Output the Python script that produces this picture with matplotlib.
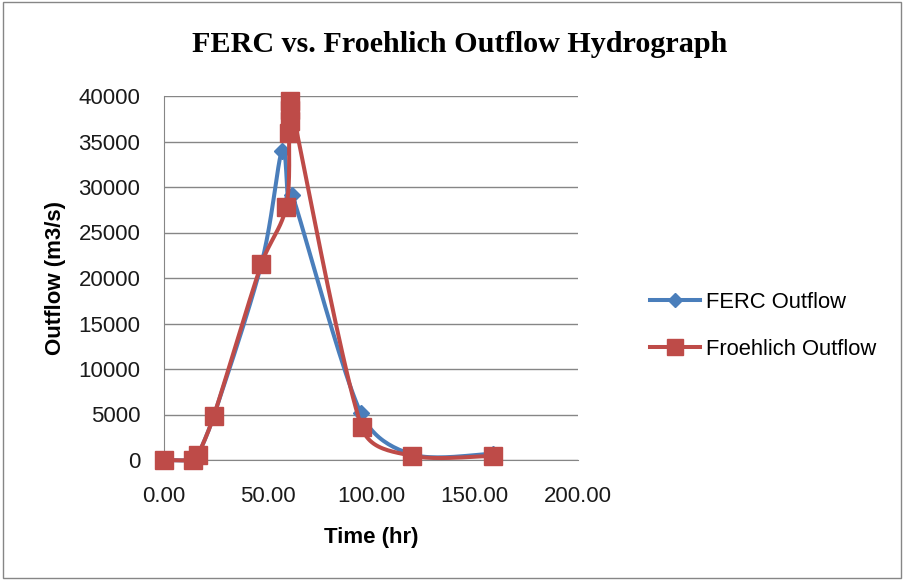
import numpy as np
import matplotlib.pyplot as plt

time_ferc = [0, 14, 16.5, 24, 47, 57, 60, 62, 95, 120, 159]
ferc = [0, 0, 600, 4800, 21500, 34000, 28300, 29100, 5200, 600, 700]

time_froe = [0, 14, 16.5, 24, 47, 59, 60.5, 61, 61, 61, 95.5, 120, 159]
froe = [0, 0, 600, 4800, 21500, 27800, 35900, 37300, 38500, 39500, 3600, 450, 450]

# plot box in pixels
L, R, T, B = 164, 578, 96, 460
XMAX, YMAX = 200, 40000


def smooth(x, y, n=24):
    # bezier smoothing (like Excel's smoothed line), worked out in pixel space
    sx = (R - L) / XMAX
    sy = (B - T) / YMAX
    p = np.column_stack([np.asarray(x, float) * sx, np.asarray(y, float) * sy])
    m = len(p)
    tang = np.zeros_like(p)
    for i in range(m):
        a = p[max(i - 1, 0)]
        b = p[min(i + 1, m - 1)]
        tang[i] = (b - a) / 6
    t = np.linspace(0, 1, n)[:, None]
    out = []
    for i in range(m - 1):
        p1, p2 = p[i], p[i + 1]
        seg = np.hypot(*(p2 - p1))
        t1, t2 = tang[i].copy(), tang[i + 1].copy()
        for tt in (t1, t2):
            ln = np.hypot(*tt)
            if ln > 0.4 * seg and ln > 0:
                tt *= 0.4 * seg / ln
        c1 = p1 + t1
        c2 = p2 - t2
        bz = (1 - t) ** 3 * p1 + 3 * (1 - t) ** 2 * t * c1 + 3 * (1 - t) * t ** 2 * c2 + t ** 3 * p2
        out.append(bz)
    out = np.vstack(out)
    return out[:, 0] / sx, out[:, 1] / sy


blue = '#4a7ebb'
red = '#be4b48'
font = 'Liberation Sans'

fig = plt.figure(figsize=(9.04, 5.8), dpi=100)
ax = fig.add_axes([L / 904, 1 - B / 580, (R - L) / 904, (B - T) / 580])

sx, sy = smooth(time_ferc, ferc)
ax.plot(sx, sy, color=blue, lw=2.9, solid_capstyle='round', zorder=3, clip_on=False)
ax.plot(time_ferc, ferc, ls='none', marker='D', ms=8.5, color=blue, zorder=4, clip_on=False)
sx, sy = smooth(time_froe, froe)
ax.plot(sx, sy, color=red, lw=2.9, solid_capstyle='round', zorder=5, clip_on=False)
ax.plot(time_froe, froe, ls='none', marker='s', ms=13, color=red, zorder=6, clip_on=False)

# legend entries
ax.plot([], [], color=blue, lw=2.9, marker='D', ms=7.5, label='FERC Outflow')
ax.plot([], [], color=red, lw=2.9, marker='s', ms=11, label='Froehlich Outflow')
ax.legend(loc='center left', bbox_to_anchor=(641 / 904, 1 - 326 / 580),
          bbox_transform=fig.transFigure, frameon=False,
          handlelength=2.3, labelspacing=1.2, handletextpad=0.25, borderaxespad=0,
          prop={'family': font, 'size': 15.8})

ax.set_xlim(0, XMAX)
ax.set_ylim(0, YMAX)
ax.set_xticks(np.arange(0, 201, 50))
ax.set_xticklabels(['%.2f' % v for v in np.arange(0, 201, 50)])
ax.set_yticks(np.arange(0, 40001, 5000))
ax.grid(axis='y', color='#868686', lw=1)
ax.set_axisbelow(True)
for s in ['top', 'right']:
    ax.spines[s].set_visible(False)
for s in ['left', 'bottom']:
    ax.spines[s].set_color('#868686')
ax.tick_params(colors='#868686', labelcolor='#1a1a1a', labelsize=16, length=0)
for lab in ax.get_xticklabels() + ax.get_yticklabels():
    lab.set_family(font)
ax.tick_params(axis='x', pad=19)
ax.tick_params(axis='y', pad=17)

ax.set_xlabel('Time (hr)', fontsize=16, fontweight='bold', family=font, va='center')
ax.xaxis.set_label_coords(0.5, (B - 537) / (B - T))
ax.set_ylabel('Outflow (m3/s)', fontsize=16, fontweight='bold', family=font, va='center')
ax.yaxis.set_label_coords((56 - L) / (R - L), 0.5)
fig.text(460 / 904, 1 - 45 / 580, 'FERC vs. Froehlich Outflow Hydrograph', ha='center', va='center',
         fontsize=21.7, fontweight='bold', family='Liberation Serif')

fig.patches.append(plt.Rectangle((0.003, 0.003), 0.994, 0.994, transform=fig.transFigure,
                                 fill=False, edgecolor='#868686', lw=1))

fig.savefig('out.png', dpi=100)
